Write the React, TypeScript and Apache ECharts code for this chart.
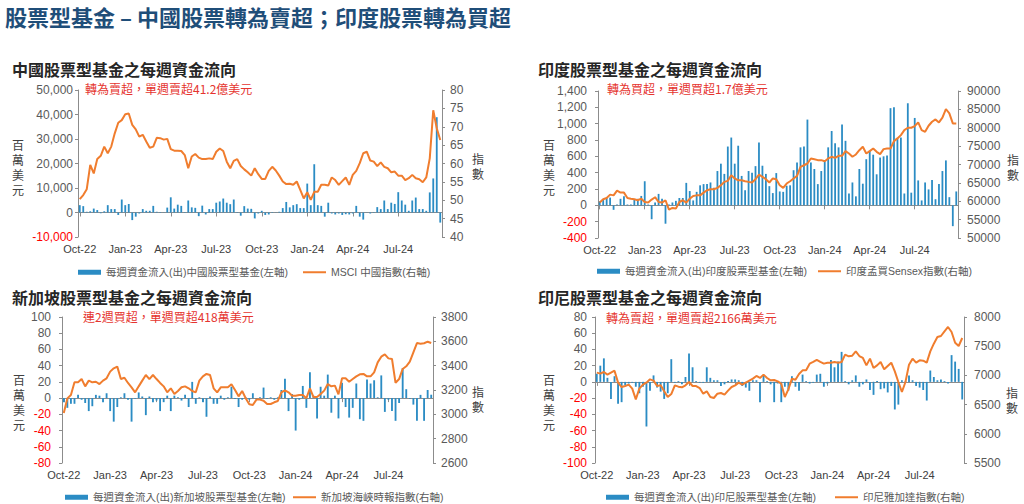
import React, { useEffect, useRef } from "react";
import * as echarts from "echarts";

// ---------- data ----------
const tickLabels = ["Oct-22", "Jan-23", "Apr-23", "Jul-23", "Oct-23", "Jan-24", "Apr-24", "Jul-24"];
const weeksPerTick = 13;
const firstWeek = "2022-10-05";
const weekCount = 104;

const chinaFlows = [
  3000, 2600, 300, 500, 1600, 1000, -300, 500, 3000, 1400,
  1400, -1000, 5300, 3000, 3500, -3100, -1700, -400, 1400, 700,
  700, 2700, 300, 200, 100, 2000, 6200, 1600, 3200, 2700,
  200, 4900, 2100, 1900, -1500, 2800, -800, 1400, 1400, 4000,
  4500, 5700, 4000, 3400, 5300, 200, -1300, 2600, 1600, 1500,
  -2400, -400, 700, -1000, -800, 200, 100, 300, 1800, 4300,
  2100, 3000, 3400, 1800, 1800, 11800, 3000, 19700, 3000, 2700,
  -1700, 4000, -400, -800, -400, -1000, -700, -800, -400, 2700,
  -1700, -2900, 100, -400, 200, 2200, 1400, 4900, 1400, 4000,
  3500, 8300, 4900, 3200, 700, 4900, 6100, 1400, 1400, 700,
  8200, 13900, 38900, -4120,
];
const msciChina = [
  50.3, 51.4, 53.0, 59.6, 57.3, 61.2, 62.1, 64.6, 62.8, 64.6,
  68.2, 71.1, 71.8, 73.4, 73.6, 70.5, 69.3, 67.3, 67.8, 66.0,
  64.3, 64.6, 67.0, 66.9, 66.5, 66.7, 63.9, 63.5, 63.5, 63.4,
  62.3, 58.7, 61.9, 62.6, 61.6, 61.2, 61.2, 61.4, 61.2, 63.2,
  64.1, 63.4, 60.5, 58.7, 60.7, 61.2, 59.3, 58.4, 57.6, 56.7,
  58.7, 57.1, 55.8, 55.8, 58.0, 59.1, 58.1, 56.7, 55.1, 54.4,
  54.5, 54.2, 55.1, 52.8, 50.5, 52.2, 50.1, 52.3, 52.3, 54.2,
  54.2, 54.0, 56.2, 55.5, 54.2, 55.2, 56.2, 54.2, 56.9, 58.0,
  60.1, 62.8, 63.2, 60.8, 60.5, 59.3, 60.3, 59.1, 58.7, 57.6,
  57.8, 56.7, 56.7, 55.5, 56.0, 56.9, 56.0, 55.7, 54.9, 56.2,
  61.4, 74.5, 69.6, 66.4,
];

const indiaFlows = [
  50, 75, 90, 95, -55, 10, 80, 110, 10, 10,
  70, 80, 115, 295, 10, -170, 35, 140, 80, -225,
  10, 35, 55, 90, 90, 275, 175, 60, 165, 245,
  260, 260, 280, 215, 420, 510, 385, 720, 830, 510,
  730, 360, 185, 420, 400, 480, 770, 485, 385, 235,
  150, 395, 170, 165, 240, 245, 430, 525, 710, 720,
  1050, 525, 445, 260, 420, 540, 710, 910, 760, 710,
  990, 790, 145, 280, 110, 445, 265, 565, 670, 620,
  380, 585, 600, 610, 1190, 1200, 820, 830, 145, 1250,
  155, 1070, 305, 60, 280, 195, 310, 75, 260, 420,
  550, 100, -255, 170,
];
const sensex = [
  59640, 60550, 60900, 61800, 61600, 62900, 62350, 62350, 60900, 60700,
  60550, 60270, 60700, 59800, 59640, 60450, 61100, 59800, 59640, 60270,
  57700, 58180, 58000, 59800, 60270, 59640, 60700, 61450, 61600, 61600,
  62350, 63000, 63270, 63270, 63640, 64360, 65270, 65550, 67100, 66200,
  65700, 65700, 65450, 65270, 65100, 66000, 67270, 66640, 66000, 65100,
  66200, 66000, 64360, 63640, 64820, 65450, 66200, 66900, 69360, 69800,
  70270, 71640, 71450, 71180, 71180, 70900, 71640, 72100, 71800, 72360,
  72360, 73640, 73000, 72100, 72730, 73900, 74820, 73000, 73640, 74360,
  73450, 72820, 74180, 74360, 74360, 76360, 77100, 78000, 79360, 80000,
  80000, 80450, 81450, 79360, 78900, 80550, 81640, 82270, 81450, 82730,
  85100, 83900, 81180, 81180,
];

const singaporeFlows = [
  -5, -12, -7, -7, 4, -2, -6, -16, -10, 4,
  3, -5, 6, -16, -29, -11, 1, 6, -2, -29,
  -1, 7, 2, -21, 2, -5, -3, -16, -5, 3,
  -16, 3, 1, -3, 4, -11, 20, -7, 1, -5,
  -23, 2, -7, -7, 3, -2, 1, 14, -1, -11,
  -2, 1, -2, 6, -1, 1, 13, -1, 1, -2,
  1, 10, 24, -16, 5, -40, -2, 15, -12, 32,
  3, -25, 14, 3, 29, -18, 3, -25, 19, -11,
  -24, -12, 18, -26, -28, 23, 18, 22, 1, 28,
  -17, -2, -16, -28, -6, 37, 11, -1, -8, -28,
  4, -28, 10, 4.18,
];
const straitsTimes = [
  3011, 3131, 3159, 3263, 3263, 3290, 3230, 3277, 3263, 3268,
  3249, 3277, 3296, 3351, 3378, 3392, 3290, 3301, 3258, 3222,
  3181, 3230, 3277, 3323, 3290, 3323, 3290, 3258, 3230, 3181,
  3214, 3167, 3192, 3222, 3230, 3214, 3192, 3181, 3277, 3312,
  3332, 3323, 3214, 3181, 3222, 3222, 3222, 3247, 3200, 3148,
  3192, 3132, 3082, 3077, 3121, 3121, 3112, 3085, 3085, 3099,
  3110, 3181, 3197, 3181, 3153, 3153, 3159, 3159, 3132, 3214,
  3142, 3142, 3167, 3195, 3249, 3230, 3236, 3164, 3296, 3296,
  3268, 3290, 3312, 3329, 3332, 3312, 3312, 3345, 3427, 3474,
  3493, 3460, 3455, 3258, 3290, 3373, 3395, 3433, 3510, 3586,
  3581, 3584, 3597, 3586,
];

const indonesiaFlows = [
  10, 20, 29, 5, -21, 7, -27, -25, -4, -2,
  -1, -6, -14, -6, -55, -11, 8, -7, -12, -21,
  -14, 28, -1, 1, -3, 6, 35, 18, 1, -1,
  -1, 18, 5, 2, 2, -5, -3, 1, 3, 3,
  2, -5, -7, -11, 2, 2, -25, 8, 1, -3,
  -25, -2, -25, -6, -11, 7, -6, -11, 9, 1,
  -2, -1, 9, 10, -6, -2, 27, 18, 25, 37,
  1, -3, 2, 8, -6, -3, 3, -10, -16, 1,
  -9, -8, -13, -5, -34, -28, 2, 1, 8, 2,
  -5, -7, -10, -23, 14, 6, 2, 3, 1, -2,
  33, 25, 16, -21.66,
];
const jakartaIndex = [
  7047, 7030, 7058, 7013, 7047, 7081, 6876, 6801, 6818, 6841,
  6773, 6590, 6773, 6841, 6876, 6933, 6910, 6818, 6830, 6727,
  6630, 6681, 6830, 6807, 6796, 6830, 6887, 6818, 6818, 6784,
  6687, 6727, 6630, 6613, 6687, 6699, 6670, 6739, 6801, 6830,
  6876, 6841, 6876, 6910, 6944, 6990, 6956, 7013, 6956, 6916,
  6921, 6898, 6858, 6630, 6761, 6944, 6927, 7024, 7087, 7087,
  7201, 7230, 7264, 7230, 7201, 7218, 7218, 7230, 7218, 7230,
  7355, 7327, 7338, 7412, 7332, 7298, 7172, 7287, 7127, 7172,
  7230, 7104, 7161, 7218, 7070, 6887, 6716, 6887, 7184, 7287,
  7218, 7258, 7252, 7218, 7412, 7543, 7658, 7675, 7755, 7829,
  7743, 7560, 7503, 7640,
];

// ---------- styles ----------
const FONT = "'Liberation Sans', 'Noto Sans CJK TC', sans-serif";
const CJK = "'Noto Sans CJK TC', 'Liberation Sans', sans-serif";
const BAR_COLOR = "#2B8CC4";
const LINE_COLOR = "#F07D2E";
const AXIS_COLOR = "#8C8C8C";
const LABEL_COLOR = "#595959";
const NEG_COLOR = "#FF0000";
const NOTE_COLOR = "#E5342F";

function buildWeeks(): string[] {
  const out: string[] = [];
  const d0 = new Date(firstWeek + "T00:00:00Z");
  for (let i = 0; i < weekCount; i++) {
    const d = new Date(d0.getTime() + i * 7 * 86400000);
    out.push(d.toISOString().slice(0, 10));
  }
  return out;
}

const comma = (v: number) => Number(v).toLocaleString("en-US");
const plain = (v: number) => String(v);

const panels = [
  {
    title: "中國股票型基金之每週資金流向",
    note: "轉為賣超，單週賣超41.2億美元",
    barName: "每週資金流入(出)中國股票型基金(左軸)",
    lineName: "MSCI 中國指數(右軸)",
    flows: chinaFlows,
    index: msciChina,
    lAxis: { min: -10000, max: 50000, interval: 10000, fmt: comma, margin: 5 },
    rAxis: { min: 40, max: 80, interval: 5, fmt: plain, margin: 8 },
    grid: { left: 78, top: 90, width: 364, height: 147 },
    titlePos: [12, 69], notePos: [85, 88],
    unitPos: [18, 167], idxPos: [478, 166],
    legendPos: [73, 298, 262],
  },
  {
    title: "印度股票型基金之每週資金流向",
    note: "轉為買超，單週買超1.7億美元",
    barName: "每週資金流入(出)印度股票型基金(左軸)",
    lineName: "印度孟買Sensex指數(右軸)",
    flows: indiaFlows,
    index: sensex,
    lAxis: { min: -400, max: 1400, interval: 200, fmt: comma, margin: 11 },
    rAxis: { min: 50000, max: 90000, interval: 5000, fmt: plain, margin: 9 },
    grid: { left: 598, top: 91, width: 360, height: 147 },
    titlePos: [538, 69], notePos: [607, 88],
    unitPos: [549, 167], idxPos: [1013, 167],
    legendPos: [592, 813, 261],
  },
  {
    title: "新加坡股票型基金之每週資金流向",
    note: "連2週買超，單週買超418萬美元",
    barName: "每週資金流入(出)新加坡股票型基金(左軸)",
    lineName: "新加坡海峽時報指數(右軸)",
    flows: singaporeFlows,
    index: straitsTimes,
    lAxis: { min: -80, max: 100, interval: 20, fmt: plain, margin: 11 },
    rAxis: { min: 2600, max: 3800, interval: 200, fmt: plain, margin: 8 },
    grid: { left: 62, top: 317, width: 371, height: 146 },
    titlePos: [12, 297], notePos: [83, 316],
    unitPos: [19, 402], idxPos: [478, 399],
    legendPos: [60, 288, 487],
  },
  {
    title: "印尼股票型基金之每週資金流向",
    note: "轉為賣超，單週賣超2166萬美元",
    barName: "每週資金流入(出)印尼股票型基金(左軸)",
    lineName: "印尼雅加達指數(右軸)",
    flows: indonesiaFlows,
    index: jakartaIndex,
    lAxis: { min: -100, max: 80, interval: 20, fmt: plain, margin: 8 },
    rAxis: { min: 5500, max: 8000, interval: 500, fmt: plain, margin: 10 },
    grid: { left: 595, top: 317, width: 369, height: 146 },
    titlePos: [538, 297], notePos: [606, 317],
    unitPos: [549, 402], idxPos: [1012, 400],
    legendPos: [601, 830, 487],
  },
];

const MAIN_TITLE = "股票型基金 – 中國股票轉為賣超；印度股票轉為買超";

function textEl(text: string, x: number, y: number, s: any) {
  return {
    type: "text",
    x,
    y,
    silent: true,
    style: {
      text,
      fontFamily: s.fontFamily || CJK,
      fontSize: s.fontSize,
      fontWeight: s.fontWeight || "normal",
      fill: s.fill,
      lineHeight: s.lineHeight,
      align: s.align || "left",
      textAlign: s.align || "left",
      verticalAlign: "middle",
      textVerticalAlign: "middle",
    },
  };
}

function buildOption() {
  const weeks = buildWeeks();
  const isTick = (i: number) => i % weeksPerTick === 0;
  const grid: any[] = [];
  const xAxis: any[] = [];
  const yAxis: any[] = [];
  const series: any[] = [];
  const legend: any[] = [];
  const graphic: any[] = [];

  graphic.push(textEl(MAIN_TITLE, 5, 16, { fontSize: 22, fontWeight: "bold", fill: "#1F4E79" }));

  panels.forEach((p, k) => {
    grid.push({ ...p.grid, containLabel: false });
    xAxis.push({
      type: "category",
      gridIndex: k,
      data: weeks,
      position: "bottom",
      boundaryGap: true,
      axisLine: { show: true, onZero: true, lineStyle: { color: AXIS_COLOR, width: 1 } },
      axisTick: { show: true, interval: isTick, alignWithLabel: true, length: 4, lineStyle: { color: AXIS_COLOR } },
      axisLabel: { show: false },
      splitLine: { show: false },
    });
    xAxis.push({
      type: "category",
      gridIndex: k,
      data: weeks,
      position: "bottom",
      boundaryGap: true,
      axisLine: { show: false, onZero: false },
      axisTick: { show: false },
      splitLine: { show: false },
      axisLabel: {
        interval: isTick,
        formatter: (_v: string, i: number) => tickLabels[Math.round(i / weeksPerTick)] || "",
        fontFamily: FONT,
        fontSize: 11,
        color: "#404040",
        margin: 6,
      },
    });
    const axisCommon = (a: any, pos: string) => ({
      type: "value",
      gridIndex: k,
      position: pos,
      min: a.min,
      max: a.max,
      interval: a.interval,
      axisLine: { show: true, onZero: false, lineStyle: { color: AXIS_COLOR, width: 1 } },
      axisTick: { show: true, length: 3, lineStyle: { color: AXIS_COLOR } },
      splitLine: { show: false },
      axisLabel: {
        formatter: a.fmt,
        fontFamily: FONT,
        fontSize: 12,
        margin: a.margin,
        color: (v: any) => (Number(v) < 0 ? NEG_COLOR : LABEL_COLOR),
      },
    });
    yAxis.push(axisCommon(p.lAxis, "left"));
    yAxis.push(axisCommon(p.rAxis, "right"));

    series.push({
      type: "bar",
      name: p.barName,
      xAxisIndex: 2 * k,
      yAxisIndex: 2 * k,
      data: p.flows,
      barWidth: "52%",
      itemStyle: { color: BAR_COLOR },
      z: 2,
    });
    series.push({
      type: "line",
      name: p.lineName,
      xAxisIndex: 2 * k,
      yAxisIndex: 2 * k + 1,
      data: p.index,
      symbol: "none",
      showSymbol: false,
      lineStyle: { color: LINE_COLOR, width: 2 },
      itemStyle: { color: LINE_COLOR },
      z: 3,
    });

    const legendText = { fontFamily: FONT, fontSize: 10.5, color: LABEL_COLOR };
    legend.push({
      left: p.legendPos[0],
      top: p.legendPos[2],
      itemWidth: 23,
      itemHeight: 5,
      itemGap: 0,
      selectedMode: false,
      data: [{ name: p.barName, icon: "rect", itemStyle: { color: BAR_COLOR } }],
      textStyle: legendText,
    });
    legend.push({
      left: p.legendPos[1],
      top: p.legendPos[2],
      itemWidth: 23,
      itemHeight: 2,
      itemGap: 0,
      selectedMode: false,
      data: [{ name: p.lineName, icon: "rect", itemStyle: { color: LINE_COLOR } }],
      textStyle: legendText,
    });

    graphic.push(textEl(p.title, p.titlePos[0], p.titlePos[1], { fontSize: 16, fontWeight: "bold", fill: "#262626" }));
    graphic.push(textEl(p.note, p.notePos[0], p.notePos[1], { fontSize: 12, fill: NOTE_COLOR }));
    graphic.push(textEl("百\n萬\n美\n元", p.unitPos[0], p.unitPos[1], { fontSize: 12, fill: "#404040", lineHeight: 15, align: "center" }));
    graphic.push(textEl("指\n數", p.idxPos[0], p.idxPos[1], { fontSize: 12, fill: "#404040", lineHeight: 15, align: "center" }));
  });

  return {
    animation: false,
    backgroundColor: "#ffffff",
    textStyle: { fontFamily: FONT },
    grid,
    xAxis,
    yAxis,
    series,
    legend,
    graphic,
  };
}

export default function App() {
  const ref = useRef<HTMLDivElement>(null);
  useEffect(() => {
    document.body.style.margin = "0";
    if (!ref.current) return;
    const chart = echarts.init(ref.current, undefined, { renderer: "svg" });
    chart.setOption(buildOption() as any);
    return () => chart.dispose();
  }, []);
  return <div ref={ref} style={{ position: "fixed", left: 0, top: 0, width: 1024, height: 504 }} />;
}
